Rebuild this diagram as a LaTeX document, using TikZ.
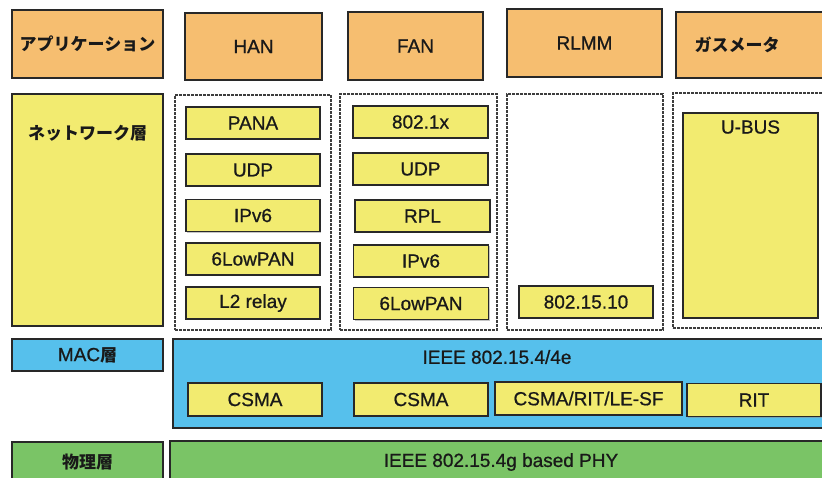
\documentclass[tikz,border=0pt]{standalone}
\usepackage{fontspec}
\setmainfont{Liberation Sans}[FakeBold=0.8]
\newfontfamily\jp{Noto Sans CJK JP}
\usetikzlibrary{shadows}

\definecolor{appor}{RGB}{246,190,112}
\definecolor{netyl}{RGB}{242,235,112}
\definecolor{macbl}{RGB}{86,192,236}
\definecolor{phygr}{RGB}{122,196,102}
\definecolor{edge}{RGB}{40,40,40}

\tikzset{
  base/.style={rectangle, draw=edge, line width=1.5pt, inner sep=0pt,
    font=\fontsize{19}{22}\selectfont, text=black!90,
    drop shadow={shadow xshift=1.2pt, shadow yshift=-1.2pt, fill=black!45}},
  appbox/.style={base, fill=appor},
  ylbox/.style={base, fill=netyl},
  blbox/.style={base, fill=macbl},
  grbox/.style={base, fill=phygr},
  group/.style={rectangle, draw=edge!90, line width=1.1pt,
    dash pattern=on 2.6pt off 1.4pt, inner sep=0pt},
  txt/.style={inner sep=0pt, font=\fontsize{19}{22}\selectfont, text=black!90},
  jtxt/.style={inner sep=0pt, font=\jp\bfseries\fontsize{17}{20}\selectfont, text=black!90},
}

\begin{document}
\begin{tikzpicture}[x=1pt, y=-1pt]
\useasboundingbox (0,0) rectangle (822,477);
\clip (0,0) rectangle (822,477);
\fill[white] (0,0) rectangle (822,477);

% application row
\node[appbox, minimum width=151, minimum height=68] (app) at (87.5,44) {};
\node[jtxt] (applbl) at (87.5,44) {アプリケーション};
\node[appbox, minimum width=137, minimum height=67] (han) at (253.5,46.5) {HAN};
\node[appbox, minimum width=135, minimum height=68] (fan) at (415.5,46) {FAN};
\node[appbox, minimum width=155, minimum height=68] (rlmm) at (584.5,43) {RLMM};
\node[appbox, minimum width=164, minimum height=66] (gas) at (758,45) {};
\node[jtxt] (gaslbl) at (737,45) {ガスメータ};

% network layer row
\node[ylbox, minimum width=151, minimum height=232] (net) at (87.5,210) {};
\node[jtxt] (netlbl) at (87.5,133) {ネットワーク層};

\node[group, minimum width=156, minimum height=235] (hangrp) at (253,212.5) {};
\node[ylbox, minimum width=134, minimum height=32] (pana) at (253,123) {PANA};
\node[ylbox, minimum width=134, minimum height=32] (hudp) at (253,170) {UDP};
\node[ylbox, minimum width=134, minimum height=32] (hipv6) at (253,215.5) {IPv6};
\node[ylbox, minimum width=134, minimum height=32] (hlow) at (253,259) {6LowPAN};
\node[ylbox, minimum width=134, minimum height=32] (relay) at (253,303) {L2 relay};

\node[group, minimum width=157, minimum height=236] (fangrp) at (418.5,212) {};
\node[ylbox, minimum width=135, minimum height=32] (dot1x) at (420.5,122) {802.1x};
\node[ylbox, minimum width=135, minimum height=32] (fudp) at (420.5,169) {UDP};
\node[ylbox, minimum width=135, minimum height=32] (rpl) at (422.5,216) {RPL};
\node[ylbox, minimum width=135, minimum height=32] (fipv6) at (421,261) {IPv6};
\node[ylbox, minimum width=135, minimum height=32] (flow) at (421,303.5) {6LowPAN};

\node[group, minimum width=156, minimum height=236] (rlmmgrp) at (585,212) {};
\node[ylbox, minimum width=134, minimum height=32] (ieee1510) at (586,302) {802.15.10};

\node[group, minimum width=167, minimum height=235] (gasgrp) at (756.5,210.5) {};
\node[ylbox, minimum width=135, minimum height=205] (ubus) at (750.5,215.5) {};
\node[txt] (ubuslbl) at (750.5,127) {U-BUS};

% MAC layer row
\node[blbox, minimum width=151, minimum height=32] (mac) at (87.5,355) {};
\node[jtxt] (maclbl) at (87.5,355) {\fontspec{Liberation Sans}[FakeBold=0.8]\mdseries\fontsize{19}{22}\selectfont MAC\jp\bfseries\fontsize{17}{20}\selectfont 層};
\node[blbox, minimum width=667, minimum height=89] (ieee154) at (506.5,383.5) {};
\node[txt] (ieee154lbl) at (497,357) {IEEE 802.15.4/4e};
\node[ylbox, minimum width=134, minimum height=33] (csmaa) at (255,399.5) {CSMA};
\node[ylbox, minimum width=134, minimum height=33] (csmab) at (421,399.5) {CSMA};
\node[ylbox, minimum width=187, minimum height=33] (csmarit) at (588.5,398.5) {CSMA/RIT/LE-SF};
\node[ylbox, minimum width=134, minimum height=33] (rit) at (754,400) {RIT};

% physical layer row
\node[grbox, minimum width=151, minimum height=60] (phy) at (87.5,472) {};
\node[jtxt] (phylbl) at (87.5,462) {物理層};
\node[grbox, minimum width=670, minimum height=60] (phyieee) at (505,471) {};
\node[txt] (phyieeelbl) at (501,462) {IEEE 802.15.4g based PHY};
\end{tikzpicture}
\end{document}
